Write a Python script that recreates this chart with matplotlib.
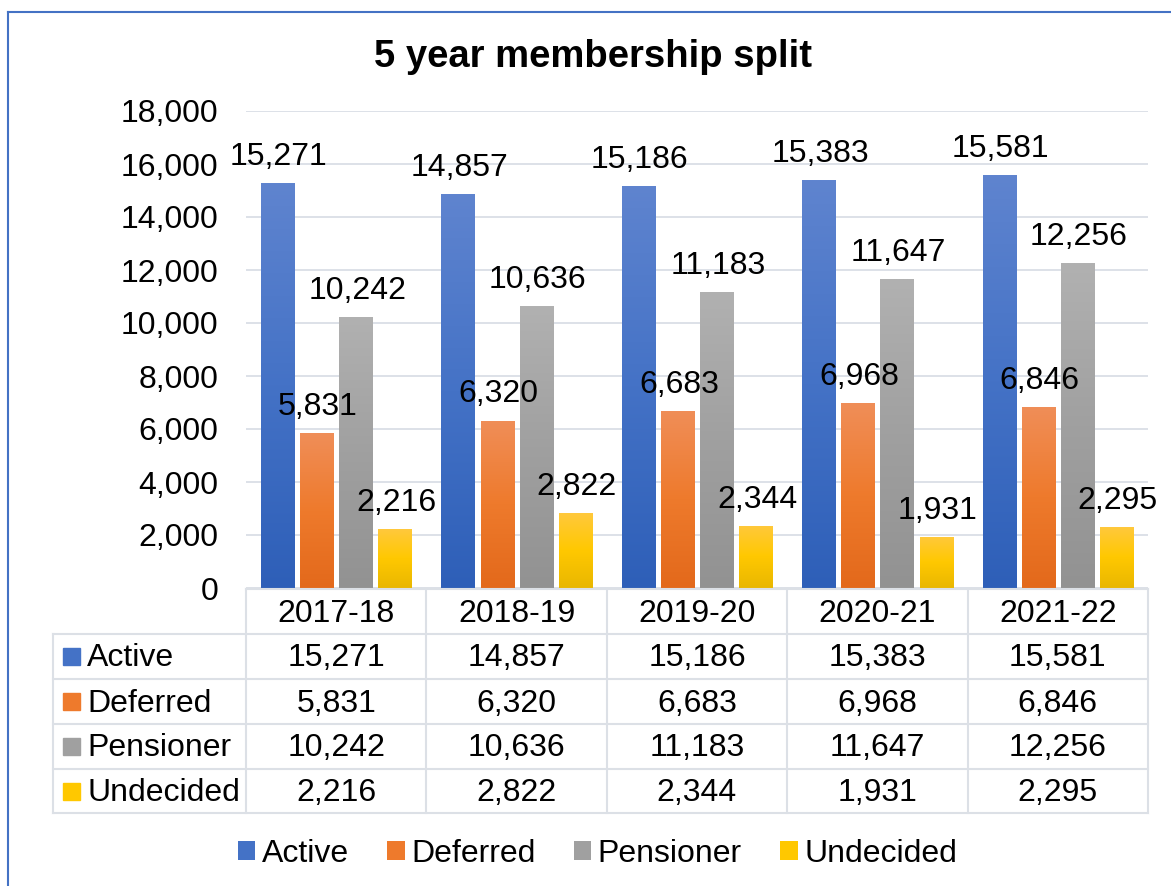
import numpy as np
import matplotlib
matplotlib.use('Agg')
import matplotlib.pyplot as plt
from matplotlib.colors import LinearSegmentedColormap
from matplotlib.patches import Patch, Rectangle
from matplotlib.lines import Line2D
from matplotlib.ticker import FuncFormatter

plt.rcParams['font.family'] = ['Liberation Sans', 'DejaVu Sans']

years = ['2017-18', '2018-19', '2019-20', '2020-21', '2021-22']
series = ['Active', 'Deferred', 'Pensioner', 'Undecided']
active = [15271, 14857, 15186, 15383, 15581]
deferred = [5831, 6320, 6683, 6968, 6846]
pensioner = [10242, 10636, 11183, 11647, 12256]
undecided = [2216, 2822, 2344, 1931, 2295]
values = [active, deferred, pensioner, undecided]

# bottom -> middle -> top colours of the bar gradients
grads = [['#2E5FB8', '#4472C6', '#5F84CF'],
         ['#E3691B', '#EE7A2C', '#F08E58'],
         ['#929292', '#A0A0A0', '#B1B1B1'],
         ['#E9B700', '#FFC800', '#FFC93C']]
mid = [g[1] for g in grads]

W, H = 1171, 886
fs = 23


def fx(px):
    return px / W


def fy(py):
    return 1 - py / H


fig = plt.figure(figsize=(W / 100, H / 100), dpi=100)
ax_l, ax_r, ax_t, ax_b = fx(246), fx(1148), fy(111), fy(588)
ax = fig.add_axes([ax_l, ax_b, ax_r - ax_l, ax_t - ax_b])

x = np.arange(len(years))
width = 0.183
step = 0.217
grad = np.linspace(0, 1, 256).reshape(-1, 1)
for k, (name, vals) in enumerate(zip(series, values)):
    pos = x + (k - 1.5) * step
    bars = ax.bar(pos, vals, width, color=mid[k], label=name, zorder=2)
    cmap = LinearSegmentedColormap.from_list(name, grads[k])
    for b, v in zip(bars, vals):
        im = ax.imshow(grad, extent=[b.get_x(), b.get_x() + b.get_width(), 0, v],
                       origin='lower', aspect='auto', cmap=cmap, zorder=3)
        im.set_clip_path(b)
        ax.annotate(f'{v:,}', (b.get_x() + b.get_width() / 2, v), xytext=(1, 13),
                    textcoords='offset points', ha='center', va='baseline',
                    fontsize=fs, zorder=4)

ax.set_xlim(-0.5, len(years) - 0.5)
ax.set_ylim(0, 18000)
ax.set_yticks(range(0, 18001, 2000))
ax.yaxis.set_major_formatter(FuncFormatter(lambda v, p: f'{int(v):,}'))
ax.tick_params(axis='y', length=0, pad=20, labelsize=fs)
ax.set_xticks([])
ax.yaxis.grid(True, color='#DDE1E8', lw=1.4)
ax.set_axisbelow(True)
for s in ax.spines.values():
    s.set_visible(False)

# data table under the chart
line_c = '#DCE0E6'
col_edges = [ax_l + i * (ax_r - ax_l) / len(years) for i in range(len(years) + 1)]
row_y = [fy(p) for p in [589, 634, 679, 724, 769, 813]]
left = fx(53)
nudge = 2 / H

fig.add_artist(Line2D([col_edges[0], col_edges[-1]], [row_y[0], row_y[0]], color=line_c, lw=1.5))
for yy in row_y[1:]:
    fig.add_artist(Line2D([left, col_edges[-1]], [yy, yy], color=line_c, lw=1.5))
for xx in col_edges:
    fig.add_artist(Line2D([xx, xx], [row_y[0], row_y[-1]], color=line_c, lw=1.5))
fig.add_artist(Line2D([left, left], [row_y[1], row_y[-1]], color=line_c, lw=1.5))

for i, yr in enumerate(years):
    cx = (col_edges[i] + col_edges[i + 1]) / 2
    fig.text(cx, (row_y[0] + row_y[1]) / 2 - nudge, yr, ha='center', va='center', fontsize=fs)
    for k, vals in enumerate(values):
        cy = (row_y[k + 1] + row_y[k + 2]) / 2
        fig.text(cx, cy - nudge, f'{vals[i]:,}', ha='center', va='center', fontsize=fs)

for k, name in enumerate(series):
    cy = (row_y[k + 1] + row_y[k + 2]) / 2
    fig.add_artist(Rectangle((fx(63), cy - 8.5 / H), 17 / W, 17 / H, color=mid[k]))
    fig.text(fx(87), cy - nudge, name, ha='left', va='center', fontsize=fs)

handles = [Patch(facecolor=c, edgecolor='none') for c in mid]
fig.legend(handles, series, loc='center', bbox_to_anchor=(0.51, fy(854)), ncol=4,
           frameon=False, fontsize=fs, handlelength=0.55, handleheight=0.55,
           handletextpad=0.2, columnspacing=1.2)

fig.text(fx(593), fy(57), '5 year membership split', ha='center', va='center',
         fontsize=27.5, weight='bold')

# chart border (only left and top visible)
fig.add_artist(Line2D([fx(8), fx(8)], [fy(12), 0], color='#4472C4', lw=1.5))
fig.add_artist(Line2D([fx(8), 1], [fy(12), fy(12)], color='#4472C4', lw=1.5))

fig.savefig('out.png', dpi=100)
